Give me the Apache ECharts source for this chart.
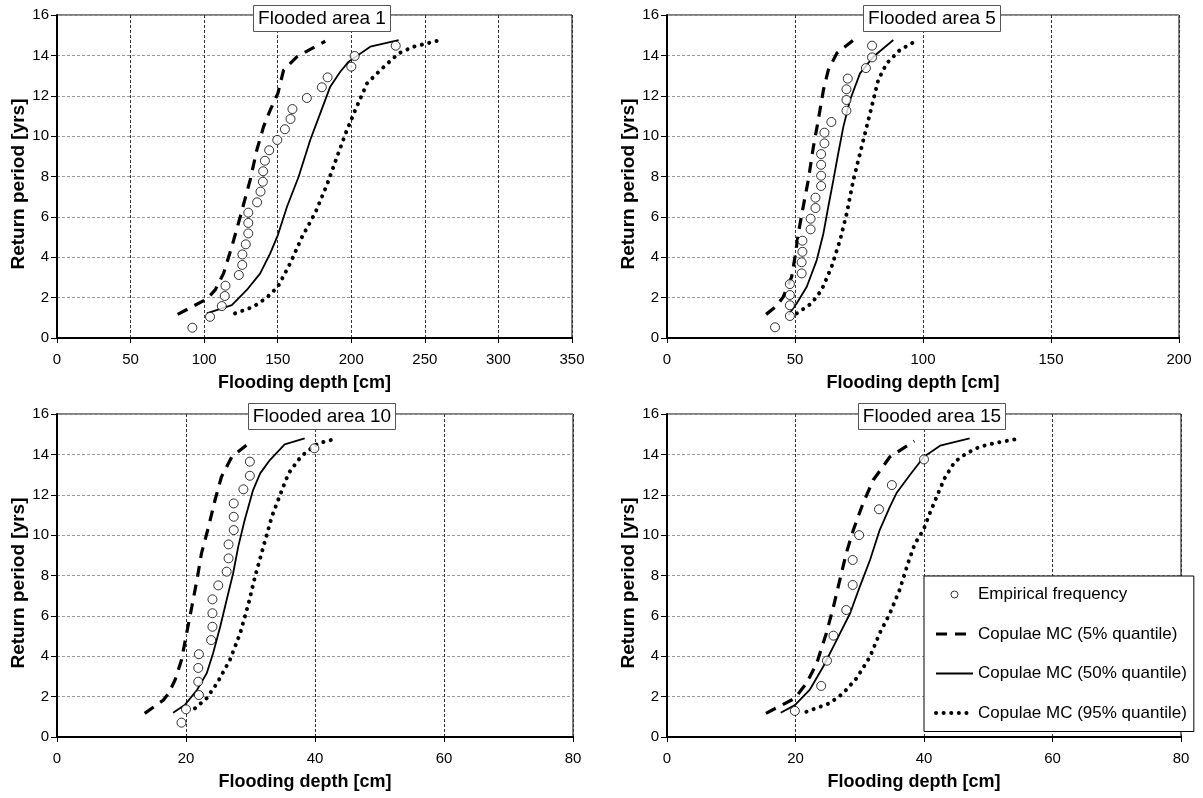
<!DOCTYPE html>
<html>
<head>
<meta charset="utf-8">
<script src="https://cdn.jsdelivr.net/npm/echarts@6/dist/echarts.min.js"></script>
<style>
html,body{margin:0;padding:0;background:#fff;}
#chart{width:1203px;height:798px;}
</style>
</head>
<body>
<div id="chart"></div>
<script>
// ---------- DATA ----------
const panelTitles = ['Flooded area 1', 'Flooded area 5', 'Flooded area 10', 'Flooded area 15'];
const seriesNames = ['Empirical frequency', 'Copulae MC (5% quantile)', 'Copulae MC (50% quantile)', 'Copulae MC (95% quantile)'];
const xAxisMax = [350, 200, 80, 80];
const xAxisStep = [50, 50, 20, 20];
const yAxisMax = 16;
const yAxisStep = 2;

// Flooded area 1
const emp1_x = [92,104,112,114,114.5,123.6,125.9,126,128.3,130,130,130,136,138.3,139.9,140.1,141.3,144.2,149.7,154.9,158.7,160,169.8,180,183.9,200,202.3,230.2];
const emp1_y = [0.51,1.05,1.58,2.08,2.59,3.12,3.62,4.14,4.64,5.18,5.70,6.21,6.72,7.25,7.74,8.26,8.78,9.30,9.81,10.34,10.85,11.34,11.89,12.42,12.91,13.44,13.97,14.48];
const q05_1 = [[82,1.17],[101.8,1.93],[107.5,2.38],[113.2,3.2],[118.8,4.52],[124.5,6.0],[131.3,7.83],[135.8,9.31],[140.4,10.47],[144.9,11.29],[150.1,12.12],[154,13.27],[163,13.93],[182.3,14.7]];
const q50_1 = [[101.8,1.22],[118.8,1.63],[129,2.38],[138.1,3.2],[144.9,4.19],[150.1,5.1],[156.3,6.5],[164.2,7.99],[172.1,9.81],[178.9,11.13],[185.7,12.45],[192.5,13.19],[198.2,13.69],[212.9,14.43],[232.2,14.76]];
const q95_1 = [[121,1.22],[133.6,1.55],[142.6,2.0],[150.1,2.54],[158.5,3.7],[166.5,5.0],[175.5,6.2],[183.5,7.6],[190.3,8.97],[196.5,10.2],[202.7,11.29],[210.7,12.61],[219.7,13.27],[232.2,14.1],[242.4,14.43],[259,14.73]];

// Flooded area 5
const emp2_x = [42.2,48,48,48,48,52.6,52.6,52.9,52.9,56.1,56.1,58,58,60.2,60.2,60.2,60.2,61.5,61.5,64.2,70.1,70.1,70.1,70.6,77.7,80.1,80.1];
const emp2_y = [0.53,1.09,1.62,2.13,2.67,3.2,3.75,4.27,4.82,5.38,5.91,6.44,6.95,7.53,8.04,8.58,9.11,9.64,10.17,10.7,11.26,11.79,12.32,12.85,13.37,13.9,14.48];
const q05_2 = [[38.7,1.17],[42.8,1.58],[45.4,2.04],[48.7,3.03],[50,4.02],[51.3,5.18],[53.2,6.5],[55.2,7.83],[57.2,9.48],[59.1,10.8],[61.1,12.29],[63,13.27],[66.3,14.1],[72.8,14.76]];
const q50_2 = [[47.4,1.14],[50.7,1.72],[54.6,2.54],[58.5,3.86],[61.1,5.18],[63,6.5],[65,7.83],[66.9,9.15],[68.9,10.47],[71.5,11.79],[75.4,13.11],[80.6,13.93],[88.4,14.76]];
const q95_2 = [[50.7,1.22],[56.5,1.72],[60.4,2.38],[64.3,3.53],[67.6,4.85],[70.2,6.17],[72.8,7.83],[75.4,9.15],[78,10.47],[80.6,11.79],[82.5,12.78],[85.8,13.6],[91,14.27],[97.5,14.73]];

// Flooded area 10
const emp3_x = [19.3,20,22,21.9,21.9,22,23.9,24.1,24.1,24.1,25,26.3,26.6,26.6,27.4,27.4,27.4,28.9,29.9,29.9,39.9];
const emp3_y = [0.71,1.37,2.08,2.74,3.42,4.1,4.8,5.46,6.13,6.82,7.51,8.19,8.85,9.54,10.25,10.91,11.57,12.27,12.94,13.64,14.3];
const q05_3 = [[13.6,1.17],[16.5,1.83],[17.3,2.16],[18.3,2.82],[19.3,3.81],[20.1,5.14],[20.9,6.45],[21.7,7.78],[22.4,9.1],[23.5,10.42],[24.5,11.74],[25.5,12.89],[27.1,13.88],[30.2,14.66]];
const q50_3 = [[18,1.2],[19.8,1.58],[21.7,2.33],[23.2,3.15],[24.2,4.15],[25.3,5.46],[26.3,6.79],[27.3,8.1],[28.1,9.43],[29.1,10.75],[30.4,12.23],[31.5,13.06],[33,13.72],[35.3,14.5],[38.4,14.79]];
const q95_3 = [[21.4,1.42],[23.2,1.92],[24.8,2.66],[26.8,3.81],[28.4,5.14],[29.7,6.62],[30.7,7.94],[32,9.43],[33.3,10.91],[34.6,12.0],[35.9,13.06],[37.4,13.72],[38.4,14.05],[40.5,14.55],[43.1,14.76]];

// Flooded area 15
const emp4_x = [19.9,24,24.9,25.9,27.9,28.9,28.9,29.9,33,35,40];
const emp4_y = [1.29,2.53,3.78,5.02,6.29,7.53,8.77,10.0,11.28,12.48,13.75];
const q05_4 = [[15.4,1.17],[19.9,1.92],[21.7,2.66],[23.3,3.65],[24.8,5.14],[25.9,6.45],[26.9,7.78],[27.9,9.1],[29,10.25],[30.5,11.57],[32.1,12.73],[34.7,13.88],[38.5,14.66]];
const q50_4 = [[17.7,1.2],[19.9,1.58],[22.2,2.33],[24.3,3.48],[26.4,4.8],[28.5,6.13],[30,7.44],[31.6,8.77],[33.1,10.25],[34.7,11.41],[35.7,12.07],[37.8,12.98],[40,13.88],[42.5,14.43],[47.1,14.79]];
const q95_4 = [[21.7,1.25],[25.3,1.67],[27.4,2.16],[29.5,2.91],[31.6,3.98],[33.1,5.14],[34.7,6.13],[36.2,7.28],[37.5,8.6],[38.6,9.59],[39.9,10.25],[40.9,11.08],[42.2,12.07],[43.2,12.81],[44.8,13.64],[46.6,14.05],[48.7,14.38],[51.3,14.58],[55,14.79]];

// ---------- BUILD ----------
const FONT = '"Liberation Sans", Arial, sans-serif';
const empX = [emp1_x, emp2_x, emp3_x, emp4_x];
const empY = [emp1_y, emp2_y, emp3_y, emp4_y];
const q05 = [q05_1, q05_2, q05_3, q05_4];
const q50 = [q50_1, q50_2, q50_3, q50_4];
const q95 = [q95_1, q95_2, q95_3, q95_4];

const grids = [
  {left: 57, top: 15, width: 515, height: 323},
  {left: 667, top: 15, width: 512, height: 323},
  {left: 57, top: 414, width: 516, height: 323},
  {left: 667, top: 414, width: 514, height: 323}
];
const titlePos = [
  {left: 317, top: 5},
  {left: 927, top: 5},
  {left: 317, top: 403},
  {left: 927, top: 403}
];
const hideSym = {color: 'rgba(0,0,0,0)', borderWidth: 0, opacity: 0};

const option = {
  animation: false,
  backgroundColor: '#fff',
  textStyle: {fontFamily: FONT},
  title: panelTitles.map((t, i) => ({
    text: t,
    left: titlePos[i].left,
    top: titlePos[i].top,
    textAlign: 'center',
    padding: [4, 5, 4, 5],
    backgroundColor: '#fff',
    borderColor: '#555',
    borderWidth: 1,
    textStyle: {fontFamily: FONT, fontSize: 19, fontWeight: 'normal', color: '#000'}
  })),
  grid: grids.map(g => Object.assign({show: true, borderColor: '#000', borderWidth: 1, backgroundColor: 'transparent', containLabel: false}, g)),
  xAxis: grids.map((g, i) => ({
    type: 'value', gridIndex: i, min: 0, max: xAxisMax[i], interval: xAxisStep[i],
    name: 'Flooding depth [cm]', nameLocation: 'middle', nameGap: 36,
    nameTextStyle: {fontFamily: FONT, fontSize: 18, fontWeight: 'bold', color: '#000', padding: [0, 20, 0, 0]},
    axisLine: {show: true, onZero: false, lineStyle: {color: '#000', width: 2}},
    axisTick: {show: true, length: 5, lineStyle: {color: '#000', width: 1}},
    axisLabel: {fontFamily: FONT, fontSize: 15, color: '#000', margin: 14},
    splitLine: {show: true, lineStyle: {color: '#333', width: 1, type: [3, 2]}}
  })),
  yAxis: grids.map((g, i) => ({
    type: 'value', gridIndex: i, min: 0, max: yAxisMax, interval: yAxisStep,
    name: 'Return period [yrs]', nameLocation: 'middle', nameGap: 29, nameRotate: 90,
    nameTextStyle: {fontFamily: FONT, fontSize: 19, fontWeight: 'bold', color: '#000', padding: [0, 15, 0, 0]},
    axisLine: {show: true, onZero: false, lineStyle: {color: '#000', width: 2}},
    axisTick: {show: true, length: 6, lineStyle: {color: '#000', width: 1}},
    axisLabel: {fontFamily: FONT, fontSize: 15, color: '#000', margin: 8},
    splitLine: {show: true, lineStyle: {color: '#999', width: 1, type: [3, 2]}}
  })),
  legend: {
    orient: 'vertical',
    left: 924, top: 576,
    padding: [10, 7, 10, 10],
    itemGap: 22.5,
    itemWidth: 37,
    itemHeight: 7,
    backgroundColor: '#fff',
    borderColor: '#000',
    borderWidth: 1,
    textStyle: {fontFamily: FONT, fontSize: 17, color: '#000'},
    lineStyle: {width: 'inherit'},
    data: [
      {name: seriesNames[0], icon: 'circle', itemStyle: {color: '#fff', borderColor: '#000', borderWidth: 1}},
      {name: seriesNames[1], itemStyle: hideSym},
      {name: seriesNames[2], itemStyle: hideSym},
      {name: seriesNames[3], itemStyle: hideSym}
    ]
  },
  series: []
};

for (let i = 0; i < 4; i++) {
  option.series.push({
    name: seriesNames[2], type: 'line', xAxisIndex: i, yAxisIndex: i,
    data: q50[i], showSymbol: false, symbol: 'none', z: 3,
    lineStyle: {color: '#000', width: 1.8, type: 'solid'}, itemStyle: {color: '#000'}
  });
  option.series.push({
    name: seriesNames[1], type: 'line', xAxisIndex: i, yAxisIndex: i,
    data: q05[i], showSymbol: false, symbol: 'none', z: 3,
    lineStyle: {color: '#000', width: 3.2, type: [11, 8], cap: 'butt'}, itemStyle: {color: '#000'}
  });
  option.series.push({
    name: seriesNames[3], type: 'line', xAxisIndex: i, yAxisIndex: i,
    data: q95[i], showSymbol: false, symbol: 'none', z: 3,
    lineStyle: {color: '#000', width: 4, type: [0.1, 7.5], cap: 'round'}, itemStyle: {color: '#000'}
  });
  option.series.push({
    name: seriesNames[0], type: 'scatter', xAxisIndex: i, yAxisIndex: i,
    data: empX[i].map((x, k) => [x, empY[i][k]]),
    symbol: 'circle', symbolSize: 9, z: 5,
    itemStyle: {color: '#fff', borderColor: '#000', borderWidth: 1}
  });
}

const chart = echarts.init(document.getElementById('chart'), null, {renderer: 'canvas'});
chart.setOption(option);
</script>
</body>
</html>
